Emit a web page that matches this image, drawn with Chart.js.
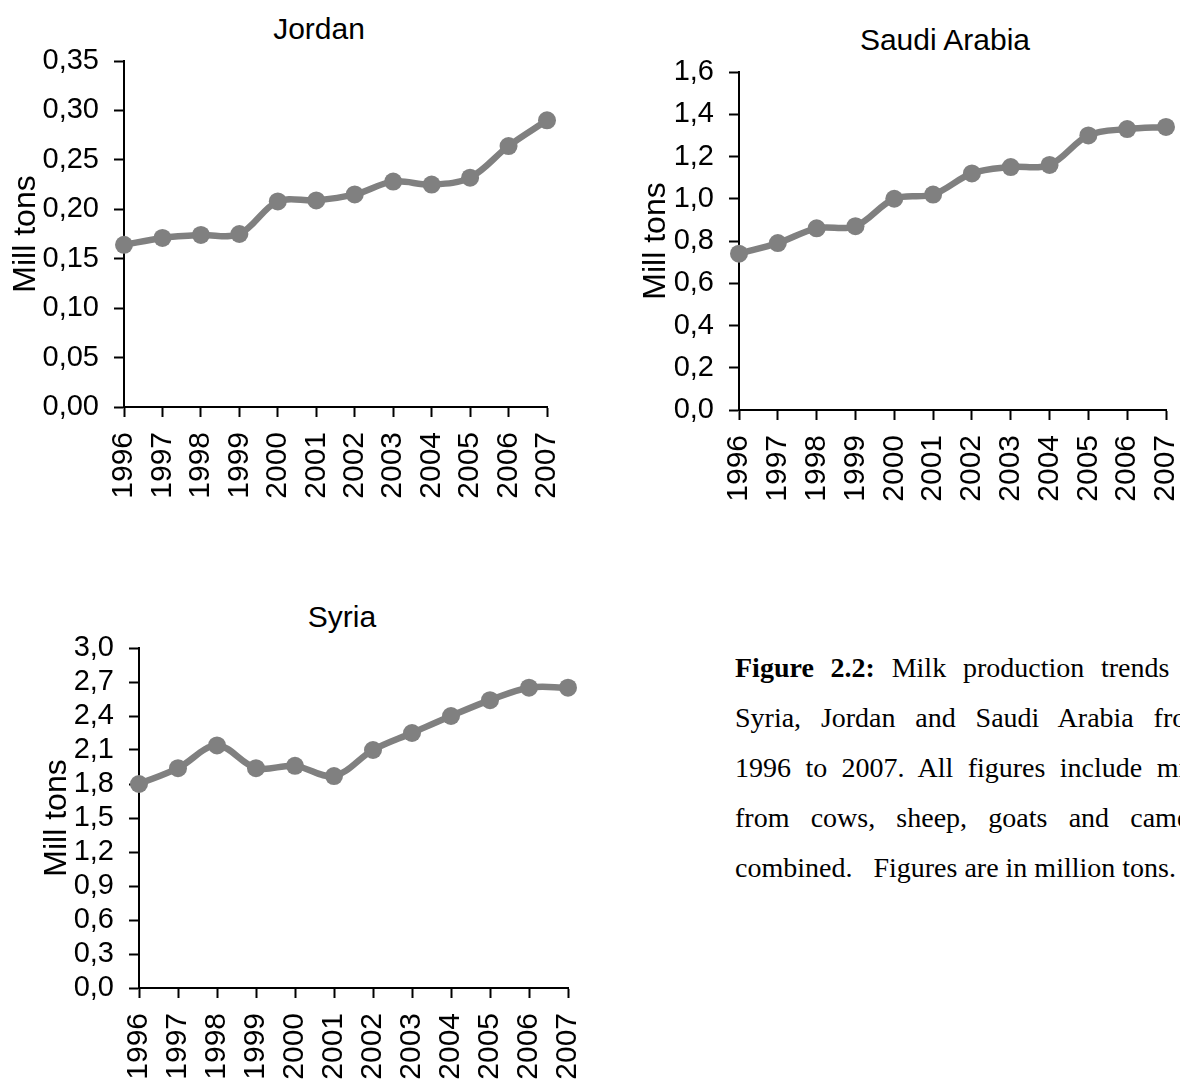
<!DOCTYPE html>
<html>
<head>
<meta charset="utf-8">
<title>Milk production trends</title>
<script src="https://cdn.jsdelivr.net/npm/chart.js@4.4.0/dist/chart.umd.min.js"></script>
<style>
  html, body { margin: 0; padding: 0; background: #fff; width: 1180px; height: 1080px; overflow: hidden; }
  .wrap { position: absolute; }
  .wrap canvas { display: block; }
  .ctitle {
    position: absolute; transform: translate(-50%, -50%); white-space: nowrap;
    font: 30px 'Liberation Sans', Arial, sans-serif; color: #000;
  }
  #caption {
    position: absolute; left: 735px; top: 643px; width: 473px;
    font: 28px 'Liberation Serif', 'Times New Roman', serif; line-height: 50px; color: #000;
  }
  #caption div { text-align: justify; text-align-last: justify; }
  #caption div.last { text-align-last: left; }
</style>
</head>
<body>

<div class="ctitle" style="left:319px; top:29px;">Jordan</div>
<div class="wrap" style="left:0; top:0;"><canvas id="jordanChart" width="590" height="520"></canvas></div>

<div class="ctitle" style="left:945px; top:40px;">Saudi Arabia</div>
<div class="wrap" style="left:600px; top:0;"><canvas id="saudiChart" width="600" height="520"></canvas></div>

<div class="ctitle" style="left:342px; top:617px;">Syria</div>
<div class="wrap" style="left:0; top:560px;"><canvas id="syriaChart" width="600" height="520"></canvas></div>

<div id="caption">
  <div><b>Figure 2.2:</b> Milk production trends in</div>
  <div>Syria, Jordan and Saudi Arabia from</div>
  <div>1996 to 2007. All figures include milk</div>
  <div>from cows, sheep, goats and camels</div>
  <div class="last">combined.&nbsp;&nbsp; Figures are in million tons.</div>
</div>

<script>
// categories + values (million tons)
const years = ['1996', '1997', '1998', '1999', '2000', '2001', '2002', '2003', '2004', '2005', '2006', '2007'];
const jordanValues = [0.164, 0.171, 0.174, 0.175, 0.208, 0.209, 0.215, 0.228, 0.225, 0.232, 0.264, 0.290];
const saudiValues = [0.74, 0.79, 0.86, 0.87, 1.00, 1.02, 1.12, 1.15, 1.16, 1.30, 1.33, 1.34];
const syriaValues = [1.80, 1.94, 2.14, 1.94, 1.96, 1.87, 2.10, 2.25, 2.40, 2.54, 2.65, 2.65];

// y axis tick ranges
const jordanTicks = { max: 0.35, step: 0.05, decimals: 2 };
const saudiTicks = { max: 1.6, step: 0.2, decimals: 1 };
const syriaTicks = { max: 3.0, step: 0.3, decimals: 1 };

Chart.defaults.font.family = "'Liberation Sans', Arial, sans-serif";
Chart.defaults.color = '#000';

const axisGrid = {
    display: true,
    drawOnChartArea: false,
    drawTicks: true,
    tickLength: 10,
    tickWidth: 2,
    tickColor: '#000',
    color: '#000'
};
const axisBorder = { display: true, color: '#000', width: 2 };

function buildChart(id, values, yTicks, box) {
    const ctx = document.getElementById(id).getContext('2d');
    return new Chart(ctx, {
        type: 'line',
        data: {
            labels: years,
            datasets: [{
                data: values,
                borderColor: '#808080',
                backgroundColor: '#808080',
                pointBackgroundColor: '#808080',
                borderWidth: 6.5,
                pointRadius: 9,
                pointHoverRadius: 9,
                pointBorderWidth: 0,
                tension: 0.35,
                fill: false,
                clip: false
            }]
        },
        options: {
            responsive: false,
            animation: false,
            layout: {
                padding: { top: box.top, right: box.right, bottom: 0, left: 0 }
            },
            plugins: {
                legend: { display: false },
                tooltip: { enabled: false }
            },
            scales: {
                x: {
                    grid: axisGrid,
                    border: axisBorder,
                    ticks: {
                        autoSkip: false,
                        minRotation: 90,
                        maxRotation: 90,
                        padding: 15,
                        font: { size: 30 }
                    },
                    afterFit: function (scale) {
                        // keep the plot edge where the layout padding puts it
                        scale.height = box.xHeight;
                        scale.paddingLeft = 0;
                        scale.paddingRight = 0;
                    }
                },
                y: {
                    min: 0,
                    max: yTicks.max,
                    grid: axisGrid,
                    border: axisBorder,
                    ticks: {
                        stepSize: yTicks.step,
                        autoSkip: false,
                        padding: 15,
                        font: { size: 29 },
                        callback: function (value) {
                            return value.toFixed(yTicks.decimals).replace('.', ',');
                        }
                    },
                    title: {
                        display: true,
                        text: 'Mill tons',
                        font: { size: 32 },
                        padding: { top: box.titlePad, bottom: 0 }
                    },
                    afterFit: function (scale) { scale.width = box.yWidth; }
                }
            }
        }
    });
}

buildChart('jordanChart', jordanValues, jordanTicks,
    { top: 61, right: 43, xHeight: 113, yWidth: 124, titlePad: 7 });
buildChart('saudiChart', saudiValues, saudiTicks,
    { top: 72, right: 34, xHeight: 110, yWidth: 139, titlePad: 37 });
buildChart('syriaChart', syriaValues, syriaTicks,
    { top: 88, right: 32, xHeight: 92, yWidth: 139, titlePad: 38 });
</script>
</body>
</html>
